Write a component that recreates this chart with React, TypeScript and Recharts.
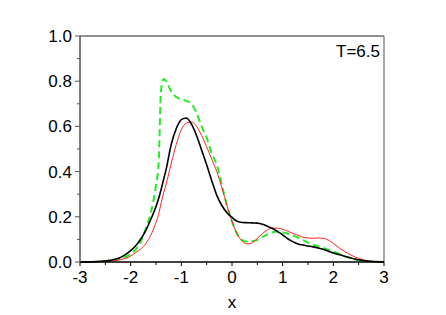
import React from "react";
import {
  LineChart,
  Line,
  XAxis,
  YAxis,
  ReferenceLine,
} from "recharts";

const xs = [
  -3, -2.8, -2.6, -2.4, -2.2, -2.0, -1.9, -1.8, -1.7, -1.6, -1.5, -1.45, -1.4,
  -1.35, -1.3, -1.2, -1.1, -1.0, -0.9, -0.8, -0.7, -0.6, -0.5, -0.4, -0.3,
  -0.2, -0.1, 0, 0.1, 0.2, 0.3, 0.4, 0.5, 0.6, 0.7, 0.8, 0.9, 1.0, 1.1, 1.2,
  1.3, 1.4, 1.5, 1.6, 1.7, 1.8, 1.9, 2.0, 2.1, 2.2, 2.4, 2.6, 2.8, 3.0,
];

const black = [
  0, 0.001, 0.003, 0.008, 0.02, 0.05, 0.072, 0.102, 0.14, 0.19, 0.245, 0.28,
  0.32, 0.365, 0.41, 0.52, 0.59, 0.63, 0.637, 0.61, 0.56, 0.495, 0.43, 0.36,
  0.295, 0.25, 0.218, 0.197, 0.18, 0.175, 0.174, 0.173, 0.172, 0.167, 0.158,
  0.148, 0.135, 0.12, 0.103, 0.09, 0.08, 0.075, 0.071, 0.067, 0.062, 0.056,
  0.048, 0.04, 0.033, 0.027, 0.014, 0.007, 0.002, 0,
];

const red = [
  0, 0, 0.001, 0.004, 0.01, 0.026, 0.042, 0.058, 0.082, 0.12, 0.175, 0.21,
  0.26, 0.305, 0.345, 0.435, 0.52, 0.585, 0.615, 0.62, 0.6, 0.56, 0.51, 0.455,
  0.4, 0.33, 0.25, 0.18, 0.125, 0.092, 0.08, 0.085, 0.105, 0.125, 0.142, 0.15,
  0.15, 0.145, 0.136, 0.127, 0.118, 0.11, 0.106, 0.105, 0.106, 0.105, 0.097,
  0.082, 0.065, 0.05, 0.025, 0.009, 0.002, 0,
];

const green = [
  0, 0, 0.002, 0.006, 0.015, 0.035, 0.055, 0.09, 0.15, 0.22, 0.34, 0.43, 0.76,
  0.81, 0.8, 0.755, 0.73, 0.72, 0.713, 0.7, 0.66, 0.6, 0.55, 0.48, 0.43, 0.34,
  0.25, 0.18, 0.125, 0.098, 0.09, 0.092, 0.098, 0.11, 0.122, 0.132, 0.135,
  0.132, 0.125, 0.117, 0.108, 0.097, 0.086, 0.077, 0.07, 0.063, 0.055, 0.046,
  0.038, 0.028, 0.013, 0.005, 0.001, 0,
];

const xTicks = [-3, -2.5, -2, -1.5, -1, -0.5, 0, 0.5, 1, 1.5, 2, 2.5, 3];
const yTicks = [0, 0.1, 0.2, 0.3, 0.4, 0.5, 0.6, 0.7, 0.8, 0.9, 1.0];

const data = xs.map((x, i) => ({ x, black: black[i], red: red[i], green: green[i] }));

const FONT = "'Liberation Sans', Arial, sans-serif";

function YTick(props: any) {
  const { x, y, payload } = props;
  const major = Math.round(payload.value * 10) % 2 === 0;
  return (
    <g>
      <line x1={x} x2={x - (major ? 5 : 3)} y1={y} y2={y} stroke="#555" strokeWidth={1} />
      {major && (
        <text x={x - 8} y={y + 6} textAnchor="end" fontSize={17} fill="#000" fontFamily={FONT}>
          {payload.value.toFixed(1)}
        </text>
      )}
    </g>
  );
}

function XTick(props: any) {
  const { x, y, payload } = props;
  const major = Number.isInteger(payload.value);
  return (
    <g>
      <line x1={x} x2={x} y1={y} y2={y + (major ? 4 : 3)} stroke="#000" strokeWidth={1} />
      {major && (
        <text x={x} y={y + 21} textAnchor="middle" fontSize={17} fill="#000" fontFamily={FONT}>
          {payload.value}
        </text>
      )}
    </g>
  );
}

export default function App() {
  return (
    <div style={{ position: "absolute", left: 0, top: 0, width: 446, height: 315, background: "#fff" }}>
      <LineChart
        width={446}
        height={315}
        data={data}
        margin={{ top: 36, right: 62, bottom: 3, left: 0 }}
      >
        <XAxis
          dataKey="x"
          type="number"
          domain={[-3, 3]}
          ticks={xTicks}
          interval={0}
          height={50}
          tickSize={0}
          tickMargin={0}
          tick={<XTick />}
          axisLine={{ stroke: "#000", strokeWidth: 1.5 }}
          tickLine={false}
          label={{ value: "x", position: "insideBottom", offset: 4, fontSize: 17, fill: "#000", fontFamily: FONT }}
        />
        <YAxis
          type="number"
          domain={[0, 1]}
          ticks={yTicks}
          interval={0}
          width={80}
          tickSize={0}
          tickMargin={0}
          tick={<YTick />}
          tickLine={false}
          axisLine={{ stroke: "#555", strokeWidth: 1.5 }}
        />
        <ReferenceLine y={1} stroke="#222" strokeWidth={1.2} />
        <ReferenceLine x={3} stroke="#888" strokeWidth={1.5} />
        <Line
          type="monotone"
          dataKey="green"
          stroke="#22ee22"
          strokeWidth={2}
          strokeDasharray="7 4"
          dot={false}
          isAnimationActive={false}
        />
        <Line
          type="monotone"
          dataKey="red"
          stroke="#ff2222"
          strokeWidth={1}
          dot={false}
          isAnimationActive={false}
        />
        <Line
          type="monotone"
          dataKey="black"
          stroke="#000"
          strokeWidth={1.6}
          dot={false}
          isAnimationActive={false}
        />
      </LineChart>
      <div
        style={{
          position: "absolute",
          right: 446 - 380,
          top: 43,
          fontFamily: FONT,
          fontSize: 17,
          lineHeight: "18px",
          color: "#000",
        }}
      >
        T=6.5
      </div>
    </div>
  );
}
